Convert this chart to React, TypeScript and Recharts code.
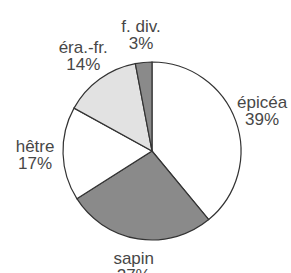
import { Pie, PieChart, Cell } from "recharts";

const species = ["épicéa", "sapin", "hêtre", "éra.-fr.", "f. div."];
const shares = [39, 27, 17, 14, 3];
const fills = ["#ffffff", "#8a8a8a", "#ffffff", "#e2e2e2", "#8a8a8a"];

const data = species.map((name, i) => ({ name, value: shares[i] }));

const RADIAN = Math.PI / 180;

const renderLabel = (props: any) => {
  const { cx, cy, midAngle, index } = props;
  const r = 117;
  const x = cx + r * Math.cos(-midAngle * RADIAN);
  const y = cy + r * Math.sin(-midAngle * RADIAN);
  return (
    <text
      x={x}
      y={y}
      textAnchor="middle"
      fill="#474747"
      fontSize={17}
      fontFamily="'Liberation Sans', Arial, sans-serif"
    >
      <tspan x={x} dy={-3}>{species[index]}</tspan>
      <tspan x={x} dy={17}>{shares[index]}%</tspan>
    </text>
  );
};

export default function App() {
  return (
    <div style={{ position: "absolute", left: 0, top: 0, background: "#fff" }}>
      <PieChart width={291} height={273}>
        <Pie
          data={data}
          dataKey="value"
          nameKey="name"
          cx={147}
          cy={146}
          outerRadius={89}
          startAngle={90}
          endAngle={-270}
          stroke="#333"
          strokeWidth={1.2}
          label={renderLabel}
          labelLine={false}
          isAnimationActive={false}
        >
          {data.map((d, i) => (
            <Cell key={d.name} fill={fills[i]} />
          ))}
        </Pie>
      </PieChart>
    </div>
  );
}
